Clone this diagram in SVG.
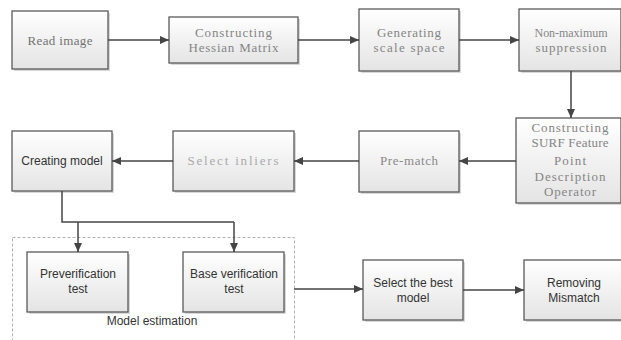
<svg xmlns="http://www.w3.org/2000/svg" width="621" height="340" viewBox="0 0 621 340">
  <defs>
    <linearGradient id="boxFill" x1="0" y1="0" x2="0" y2="1">
      <stop offset="0" stop-color="#ffffff"/>
      <stop offset="1" stop-color="#e4e4e4"/>
    </linearGradient>
    <marker id="arrow" markerWidth="10" markerHeight="10" refX="9" refY="5" orient="auto" markerUnits="userSpaceOnUse">
      <path d="M0,1 L9,5 L0,9 Z" fill="#454545"/>
    </marker>
  </defs>
  <style>
    .box { fill: url(#boxFill); stroke: #5a5a5a; stroke-width: 1.3; }
    .shadow { fill: #d8d8d8; }
    .serif { font-family: "Liberation Serif", "Times New Roman", serif; font-size: 13px; text-anchor: middle; fill: #858585; }
    .sans { font-family: "Liberation Sans", Arial, sans-serif; font-size: 12px; text-anchor: middle; fill: #333333; }
    .link { fill: none; stroke: #454545; stroke-width: 1.5; }
    .group { fill: none; stroke: #b0b0b0; stroke-width: 1; stroke-dasharray: 3 2; }
  </style>
  <rect width="621" height="340" fill="#ffffff"/>

  <!-- model estimation container -->
  <g id="model-estimation">
    <rect class="group" x="12.5" y="237.5" width="282" height="110"/>
    <text class="sans" x="152" y="325">Model estimation</text>
  </g>

  <g id="read-image">
    <rect class="shadow" x="14" y="13" width="96" height="58"/>
    <rect class="box" x="12" y="11" width="96" height="58"/>
    <text class="serif" x="60" y="45" style="fill:#727272" textLength="65" lengthAdjust="spacing">Read image</text>
  </g>

  <g id="hessian">
    <rect class="shadow" x="171" y="19" width="129" height="46"/>
    <rect class="box" x="169" y="17" width="129" height="46"/>
    <text class="serif" x="233.5" y="37" textLength="77" lengthAdjust="spacing">Constructing</text>
    <text class="serif" x="233.5" y="52" textLength="90" lengthAdjust="spacing">Hessian Matrix</text>
  </g>

  <g id="scale-space">
    <rect class="shadow" x="361" y="11" width="100" height="62"/>
    <rect class="box" x="359" y="9" width="100" height="62"/>
    <text class="serif" x="409" y="37" textLength="64" lengthAdjust="spacing">Generating</text>
    <text class="serif" x="409" y="52" textLength="71" lengthAdjust="spacing">scale space</text>
  </g>

  <g id="non-max">
    <rect class="shadow" x="521" y="11" width="102" height="62"/>
    <rect class="box" x="519" y="9" width="102" height="62"/>
    <text class="serif" x="571" y="37" style="font-size:12px" textLength="73" lengthAdjust="spacing">Non-maximum</text>
    <text class="serif" x="571" y="52" textLength="71" lengthAdjust="spacing">suppression</text>
  </g>

  <g id="surf">
    <rect class="shadow" x="518" y="120" width="105" height="85"/>
    <rect class="box" x="516" y="118" width="105" height="85"/>
    <text class="serif" x="570" y="132" textLength="77" lengthAdjust="spacing">Constructing</text>
    <text class="serif" x="570" y="147" textLength="77" lengthAdjust="spacing">SURF Feature</text>
    <text class="serif" x="570" y="165" textLength="32" lengthAdjust="spacing">Point</text>
    <text class="serif" x="570" y="181" textLength="71" lengthAdjust="spacing">Description</text>
    <text class="serif" x="570" y="196" textLength="52" lengthAdjust="spacing">Operator</text>
  </g>

  <g id="pre-match">
    <rect class="shadow" x="361" y="133" width="100" height="61"/>
    <rect class="box" x="359" y="131" width="100" height="61"/>
    <text class="serif" x="409" y="165" style="fill:#8a8a8a" textLength="58" lengthAdjust="spacing">Pre-match</text>
  </g>

  <g id="select-inliers">
    <rect class="shadow" x="175" y="133" width="121" height="60"/>
    <rect class="box" x="173" y="131" width="121" height="60"/>
    <text class="serif" x="233" y="165" style="fill:#aaaaaa" textLength="91" lengthAdjust="spacing">Select inliers</text>
  </g>

  <g id="creating-model">
    <rect class="shadow" x="14" y="133" width="100" height="60"/>
    <rect class="box" x="12" y="131" width="100" height="60"/>
    <text class="sans" x="62" y="165">Creating model</text>
  </g>

  <g id="preverification">
    <rect class="shadow" x="29" y="254" width="101" height="60"/>
    <rect class="box" x="27" y="252" width="101" height="60"/>
    <text class="sans" x="78" y="278">Preverification</text>
    <text class="sans" x="78" y="293">test</text>
  </g>

  <g id="base-verification">
    <rect class="shadow" x="185" y="254" width="101" height="60"/>
    <rect class="box" x="183" y="252" width="101" height="60"/>
    <text class="sans" x="234" y="278">Base verification</text>
    <text class="sans" x="234" y="293">test</text>
  </g>

  <g id="select-best">
    <rect class="shadow" x="365" y="262" width="100" height="60"/>
    <rect class="box" x="363" y="260" width="100" height="60"/>
    <text class="sans" x="413" y="287">Select the best</text>
    <text class="sans" x="413" y="302">model</text>
  </g>

  <g id="removing-mismatch">
    <rect class="shadow" x="526" y="262" width="100" height="60"/>
    <rect class="box" x="524" y="260" width="100" height="60"/>
    <text class="sans" x="574" y="287">Removing</text>
    <text class="sans" x="574" y="302">Mismatch</text>
  </g>

  <g id="connectors">
    <line class="link" x1="108" y1="40" x2="169" y2="40" marker-end="url(#arrow)"/>
    <line class="link" x1="298" y1="40" x2="359" y2="40" marker-end="url(#arrow)"/>
    <line class="link" x1="459" y1="40" x2="519" y2="40" marker-end="url(#arrow)"/>
    <line class="link" x1="571" y1="71" x2="571" y2="118" marker-end="url(#arrow)"/>
    <line class="link" x1="516" y1="161" x2="459" y2="161" marker-end="url(#arrow)"/>
    <line class="link" x1="359" y1="161" x2="294" y2="161" marker-end="url(#arrow)"/>
    <line class="link" x1="173" y1="161" x2="112" y2="161" marker-end="url(#arrow)"/>
    <polyline class="link" points="62,191 62,222 234,222"/>
    <line class="link" x1="78" y1="222" x2="78" y2="252" marker-end="url(#arrow)"/>
    <line class="link" x1="234" y1="222" x2="234" y2="252" marker-end="url(#arrow)"/>
    <line class="link" x1="294" y1="289" x2="363" y2="289" marker-end="url(#arrow)"/>
    <line class="link" x1="463" y1="290" x2="524" y2="290" marker-end="url(#arrow)"/>
  </g>
</svg>
